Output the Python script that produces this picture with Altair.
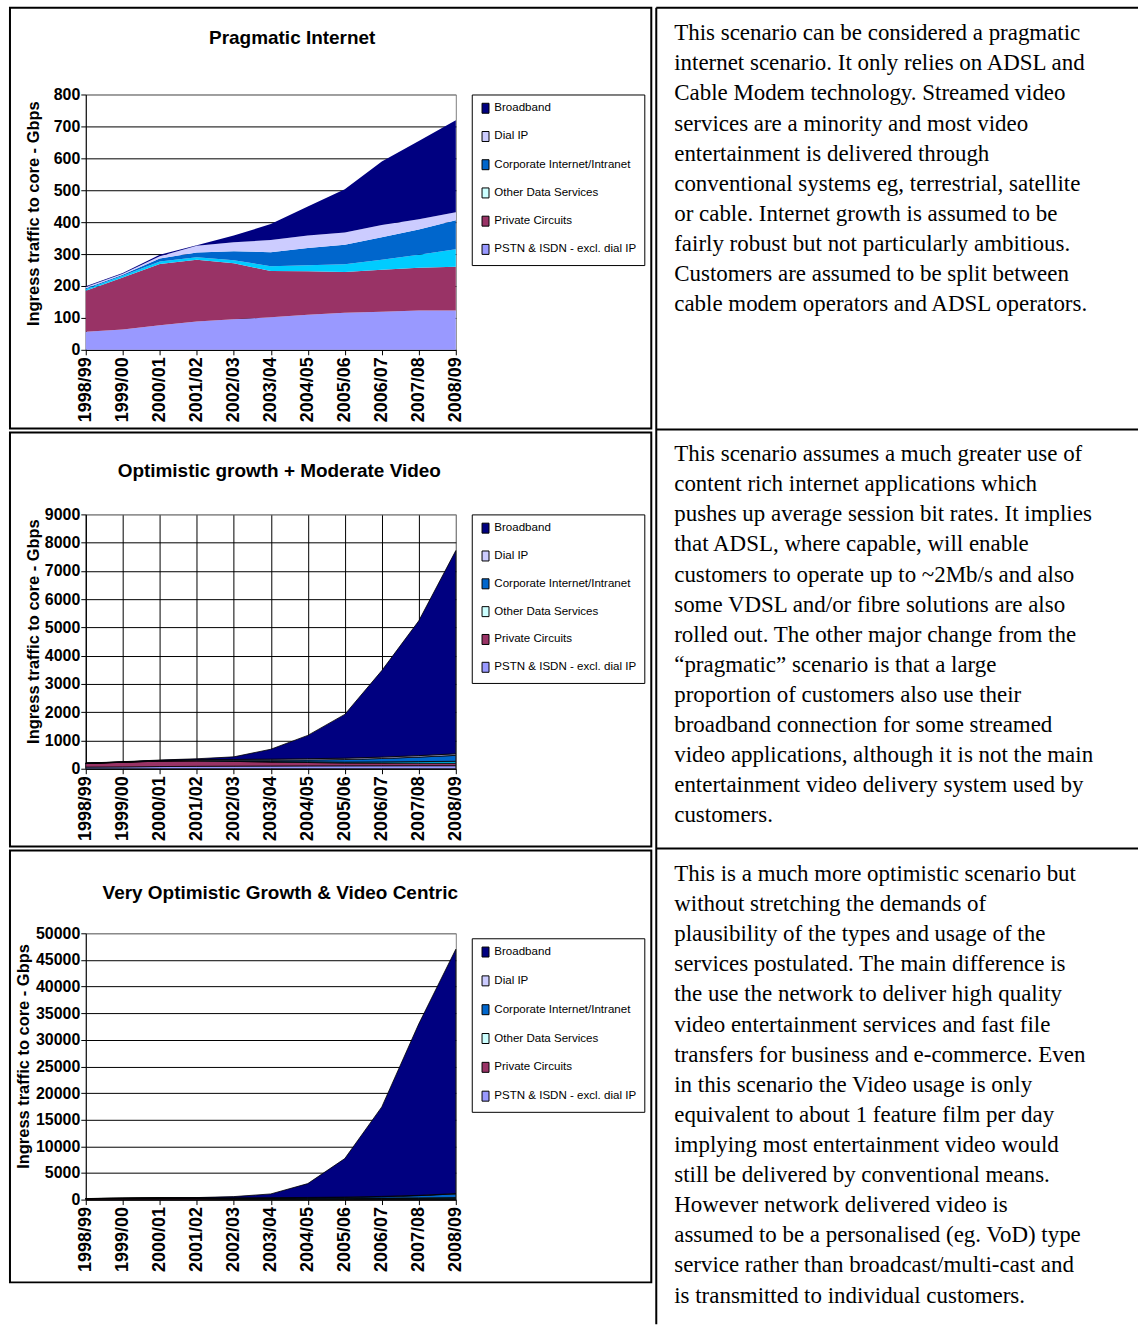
import altair as alt
import pandas as pd

SANS = "Liberation Sans"
SERIF = "Liberation Serif"

YEARS = ["1998/99", "1999/00", "2000/01", "2001/02", "2002/03", "2003/04",
         "2004/05", "2005/06", "2006/07", "2007/08", "2008/09"]

# legend order, top to bottom; the stack is drawn in the reverse order
LEGEND_ORDER = ["Broadband", "Dial IP", "Corporate Internet/Intranet",
                "Other Data Services", "Private Circuits", "PSTN & ISDN - excl. dial IP"]
FILL_COLOURS = ["#000080", "#CCCCFF", "#0066CC", "#00CCFF", "#993366", "#9999FF"]
KEY_COLOURS = ["#000080", "#CCCCFF", "#0066CC", "#CCFFFF", "#993366", "#9999FF"]
STACK_ORDER = list(reversed(LEGEND_ORDER))

Y_TITLE = "Ingress traffic to core - Gbps"

# Pragmatic Internet (Gbps)
PRAG_PSTN = [57, 64, 77, 89, 96, 102, 110, 116, 119, 123, 123]
PRAG_PRIVATE = [128, 163, 192, 193, 175, 145, 136, 128, 132, 134, 137]
PRAG_OTHER = [5, 5, 8, 8, 10, 15, 19, 24, 31, 41, 55]
PRAG_CORPORATE = [3, 3, 9, 15, 28, 44, 54, 61, 71, 79, 91]
PRAG_DIAL = [4, 3, 7, 21, 28, 38, 39, 39, 38, 32, 25]
PRAG_BROADBAND = [2, 3, 5, 2, 21, 50, 91, 135, 199, 245, 288]

# Optimistic growth + Moderate Video (Gbps)
OPT_PSTN = [57, 64, 77, 85, 90, 95, 100, 103, 105, 107, 108]
OPT_PRIVATE = [128, 163, 192, 190, 170, 140, 120, 100, 95, 90, 85]
OPT_OTHER = [5, 5, 8, 10, 12, 18, 25, 32, 42, 55, 70]
OPT_CORPORATE = [3, 3, 9, 16, 30, 48, 65, 90, 120, 160, 210]
OPT_DIAL = [4, 3, 7, 21, 28, 38, 45, 48, 50, 52, 55]
OPT_BROADBAND = [2, 10, 15, 30, 90, 350, 825, 1550, 3060, 4770, 7190]

# Very Optimistic Growth & Video Centric (Gbps)
VOPT_PSTN = [57, 64, 77, 85, 90, 95, 100, 103, 105, 107, 108]
VOPT_PRIVATE = [128, 163, 192, 190, 170, 140, 120, 100, 95, 90, 85]
VOPT_OTHER = [5, 5, 8, 12, 15, 25, 40, 60, 90, 130, 180]
VOPT_CORPORATE = [3, 3, 9, 18, 35, 60, 100, 160, 260, 420, 700]
VOPT_DIAL = [4, 3, 7, 21, 28, 38, 45, 48, 50, 52, 55]
VOPT_BROADBAND = [2, 12, 27, 54, 222, 702, 2595, 7229, 16800, 32201, 45872]

TEXT_PRAGMATIC = [
    "This scenario can be considered a pragmatic",
    "internet scenario. It only relies on ADSL and",
    "Cable Modem technology. Streamed video",
    "services are a minority and most video",
    "entertainment is delivered through",
    "conventional systems eg, terrestrial, satellite",
    "or cable. Internet growth is assumed to be",
    "fairly robust but not particularly ambitious.",
    "Customers are assumed to be split between",
    "cable modem operators and ADSL operators.",
]
TEXT_OPTIMISTIC = [
    "This scenario assumes a much greater use of",
    "content rich internet applications which",
    "pushes up average session bit rates. It implies",
    "that ADSL, where capable, will enable",
    "customers to operate up to ~2Mb/s and also",
    "some VDSL and/or fibre solutions are also",
    "rolled out. The other major change from the",
    "\u201cpragmatic\u201d scenario is that a large",
    "proportion of customers also use their",
    "broadband connection for some streamed",
    "video applications, although it is not the main",
    "entertainment video delivery system used by",
    "customers.",
]
TEXT_VERY_OPTIMISTIC = [
    "This is a much more optimistic scenario but",
    "without stretching the demands of",
    "plausibility of the types and usage of the",
    "services postulated. The main difference is",
    "the use the network to deliver high quality",
    "video entertainment services and fast file",
    "transfers for business and e-commerce. Even",
    "in this scenario the Video usage is only",
    "equivalent to about 1 feature film per day",
    "implying most entertainment video would",
    "still be delivered by conventional means.",
    "However network delivered video is",
    "assumed to be a personalised (eg. VoD) type",
    "service rather than broadcast/multi-cast and",
    "is transmitted to individual customers.",
]


def long_table(series):
    rows = []
    for rank, name in enumerate(STACK_ORDER):
        for year, v in zip(YEARS, series[name]):
            rows.append({"year": year, "series": name, "value": v, "rank": rank})
    return pd.DataFrame(rows)


def single():
    return pd.DataFrame({"k": [0]})


def panel(series, ymax, ystep, height, title, title_pos, ytitle_pos, legend_pos,
          row_pad, box, lines, text_y, outlined, vgrid):
    df = long_table(series)

    x_axis = alt.Axis(
        title=None, labelAngle=-90, labelAlign="right", labelBaseline="middle",
        labelFont=SANS, labelFontSize=18, labelFontWeight="bold", labelColor="black",
        labelPadding=2, tickSize=5, tickColor="black", domainColor="black",
        labelOverlap=False, grid=vgrid,
        gridColor=alt.condition("datum.value == '2008/09'", alt.value("#808080"), alt.value("black")),
    )
    y_axis = alt.Axis(
        values=list(range(0, ymax + 1, ystep)), format="d", title=Y_TITLE,
        titleX=ytitle_pos[0], titleY=ytitle_pos[1], titleAngle=270,
        titleAlign="center", titleBaseline="middle", titleFont=SANS,
        titleFontSize=16.5, titleFontWeight="bold", titleColor="black",
        labelFont=SANS, labelFontSize=16, labelFontWeight="bold", labelColor="black",
        labelPadding=1, tickSize=5, tickColor="black", domainColor="black",
        labelOverlap=False, labelFlush=False, grid=True,
        gridColor=alt.condition(f"datum.value == {ymax}", alt.value("#808080"), alt.value("black")),
    )

    area_style = {"stroke": "black", "strokeWidth": 0.8} if outlined else {}
    areas = alt.Chart(df).mark_area(**area_style).encode(
        x=alt.X("year:O", sort=YEARS, scale=alt.Scale(padding=0), axis=x_axis),
        y=alt.Y("value:Q", stack="zero",
                scale=alt.Scale(domain=[0, ymax], nice=False, zero=True), axis=y_axis),
        color=alt.Color("series:N", scale=alt.Scale(domain=LEGEND_ORDER, range=FILL_COLOURS),
                        legend=None),
        order=alt.Order("rank:Q"),
    )

    # the key carries its own colour scale (its swatches differ from the fills)
    key = alt.Chart(pd.DataFrame({"series": LEGEND_ORDER})).mark_square(opacity=0).encode(
        color=alt.Color(
            "series:N",
            scale=alt.Scale(domain=LEGEND_ORDER, range=KEY_COLOURS),
            legend=alt.Legend(
                title=None, orient="none", direction="vertical",
                legendX=legend_pos[0], legendY=legend_pos[1],
                fillColor="white", strokeColor="black", padding=8,
                rowPadding=row_pad, symbolType="M-0.7,-1H0.7V1H-0.7Z", symbolSize=100,
                symbolOpacity=1, symbolStrokeColor="black", symbolStrokeWidth=1,
                labelFont=SANS, labelFontSize=11.6, labelColor="black", labelOffset=3,
                labelLimit=200,
            ),
        )
    )

    frame = alt.Chart(single()).mark_rect(fillOpacity=0, stroke="black", strokeWidth=2).encode(
        x=alt.value(box[0]), x2=alt.value(box[1]), y=alt.value(box[2]), y2=alt.value(box[3])
    )
    heading = alt.Chart(single()).mark_text(
        font=SANS, fontSize=19, fontWeight="bold", align="center", baseline="middle",
        color="black"
    ).encode(x=alt.value(title_pos[0]), y=alt.value(title_pos[1]), text=alt.value(title))
    para = alt.Chart(single()).mark_text(
        font=SERIF, fontSize=23, lineHeight=30.2, align="left", baseline="alphabetic",
        color="black"
    ).encode(x=alt.value(590), y=alt.value(text_y), text=alt.value(lines))

    return (
        alt.layer(areas, key, frame, heading, para)
        .resolve_scale(color="independent")
        .resolve_legend(color="independent")
        .properties(width=371, height=height)
    )


prag = panel(
    {"PSTN & ISDN - excl. dial IP": PRAG_PSTN, "Private Circuits": PRAG_PRIVATE,
     "Other Data Services": PRAG_OTHER, "Corporate Internet/Intranet": PRAG_CORPORATE,
     "Dial IP": PRAG_DIAL, "Broadband": PRAG_BROADBAND},
    800, 100, 256, "Pragmatic Internet", (207, -57), (-52, 119), (387, 0), 13.3,
    (-76, 567, -87, 335), TEXT_PRAGMATIC, -54.5, False, False,
)

# table rules of the right-hand column and the page extent
page = alt.Chart(single()).mark_rect(opacity=0).encode(
    x=alt.value(-85), x2=alt.value(1055), y=alt.value(-92), y2=alt.value(1233)
)
column_rule = alt.Chart(single()).mark_rule(color="black", strokeWidth=2).encode(
    x=alt.value(572), y=alt.value(-87), y2=alt.value(1233)
)
row_rules = [
    alt.Chart(single()).mark_rule(color="black", strokeWidth=2).encode(
        x=alt.value(572), x2=alt.value(1055), y=alt.value(yy)
    )
    for yy in (-87, 336, 756)
]
prag = alt.layer(prag, page, column_rule, *row_rules)

opt = panel(
    {"PSTN & ISDN - excl. dial IP": OPT_PSTN, "Private Circuits": OPT_PRIVATE,
     "Other Data Services": OPT_OTHER, "Corporate Internet/Intranet": OPT_CORPORATE,
     "Dial IP": OPT_DIAL, "Broadband": OPT_BROADBAND},
    9000, 1000, 255, "Optimistic growth + Moderate Video", (194, -43), (-52, 117), (387, 0),
    12.9, (-76, 567, -82, 333), TEXT_OPTIMISTIC, -53.5, True, True,
)

vopt = panel(
    {"PSTN & ISDN - excl. dial IP": VOPT_PSTN, "Private Circuits": VOPT_PRIVATE,
     "Other Data Services": VOPT_OTHER, "Corporate Internet/Intranet": VOPT_CORPORATE,
     "Dial IP": VOPT_DIAL, "Broadband": VOPT_BROADBAND},
    50000, 5000, 267, "Very Optimistic Growth & Video Centric", (195, -40), (-62, 123),
    (387, 5), 13.9, (-76, 567, -83, 350), TEXT_VERY_OPTIMISTIC, -52.5, True, False,
)

chart = (
    alt.vconcat(prag, opt, vopt, spacing=165, bounds="flush")
    .resolve_scale(x="independent", y="independent", color="independent")
    .resolve_legend(color="independent")
    .configure_view(fill="#C0C0C0", stroke="#808080", strokeWidth=1)
    .properties(padding=0, background="white")
)

chart.save("out.html", embed_options={"renderer": "svg", "actions": False})
